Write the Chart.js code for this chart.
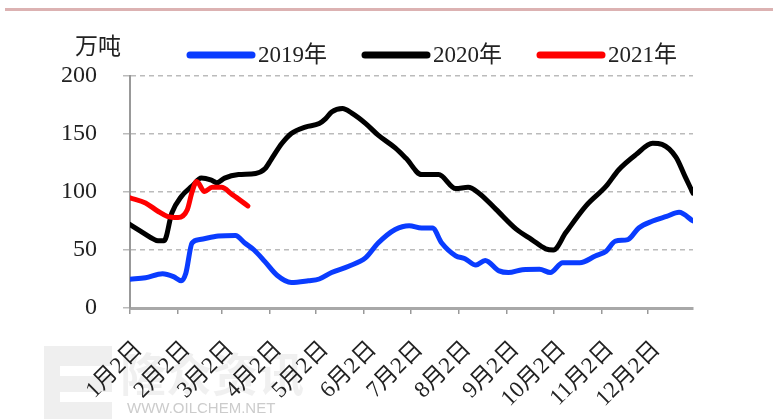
<!DOCTYPE html>
<html>
<head>
<meta charset="utf-8">
<script src="https://cdn.jsdelivr.net/npm/chart.js@4.4.1/dist/chart.umd.min.js"></script>
<style>
  html, body { margin: 0; padding: 0; background: #fff; }
  #wrap { position: relative; width: 773px; height: 419px; overflow: hidden; }
  #topline { position: absolute; left: 5px; right: 0; top: 8px; height: 3px; background: #dcb2b2; }
  canvas { position: absolute; left: 0; top: 0; }
</style>
</head>
<body>
<div id="wrap">
  <div id="topline"></div>
  <canvas id="c" width="773" height="419"></canvas>
</div>
<script>
// ---- data (x = days since Jan 2) ----
const unitLabel = '万吨';
const seriesNames = ['2019年', '2020年', '2021年'];
const seriesColors = ['#0a3cff', '#000000', '#ff0000'];

const tickDays = [0, 31, 59, 90, 120, 151, 181, 212, 243, 273, 304, 334];
const tickLabels = ['1月2日', '2月2日', '3月2日', '4月2日', '5月2日', '6月2日',
                    '7月2日', '8月2日', '9月2日', '10月2日', '11月2日', '12月2日'];

const days2019 = [0, 10, 21, 28, 33, 36, 40, 45, 57, 68, 74, 80, 87, 95, 104, 115, 122, 130, 141, 152,
                  160, 171, 180, 188, 195, 201, 210, 216, 223, 229, 238, 244, 253, 264, 271, 279, 290,
                  300, 307, 313, 321, 328, 337, 346, 354, 363];
const vals2019 = [24.8, 26, 29.5, 27, 23.4, 30, 56, 59, 62, 62.5, 56, 50, 40, 28, 22, 23.5, 25, 30.6, 36, 43.4,
                  56, 67.7, 71, 69, 69, 56, 45, 42.5, 37, 41, 32, 30.6, 33, 33.4, 30.6, 39, 39,
                  44.8, 49, 57.7, 59, 69, 75, 79, 82.5, 75];

const days2020 = [0, 7, 13, 18, 22, 27, 33, 40, 46, 52, 56, 61, 70, 81, 87, 91, 98, 104, 113, 122, 126, 130,
                  137, 143, 152, 160, 171, 178, 188, 199, 210, 218, 225, 236, 249, 259, 268, 273, 281,
                  294, 307, 315, 326, 337, 343, 352, 358, 363];
const vals2020 = [72, 66, 61, 58, 58, 82, 96, 105, 112, 110.5, 108, 112, 115, 116, 120, 128, 142, 150.5, 156, 159, 163, 169,
                  172, 168, 159, 149, 138, 129, 115, 115, 103, 104, 99, 85, 68, 59, 51, 50, 65,
                  88, 105, 119, 132, 142, 141, 130, 113, 99];

const days2021 = [0, 10, 18, 24, 31, 37, 40, 43, 48, 53, 59, 66, 76];
const vals2021 = [95, 90.6, 83.4, 79, 78, 85, 100, 109, 100.5, 104, 104, 97.7, 88];

const yTicks = [0, 50, 100, 150, 200];

// ---- build ----
const toPts = (d, v) => d.map((x, i) => ({ x: x, y: v[i] }));
const allDays = [days2019, days2020, days2021];
const allVals = [vals2019, vals2020, vals2021];

const serifFont = "'Liberation Serif', 'Noto Sans CJK SC', serif";

const datasets = seriesNames.map((name, i) => ({
  label: name,
  data: toPts(allDays[i], allVals[i]),
  borderColor: seriesColors[i],
  backgroundColor: seriesColors[i],
  borderWidth: 5,
  pointRadius: 0,
  cubicInterpolationMode: 'monotone',
  borderCapStyle: 'round',
  borderJoinStyle: 'round',
  order: 3 - i
}));

const decor = {
  id: 'decor',
  beforeDraw(chart) {
    const ctx = chart.ctx;
    ctx.save();
    // watermark logo
    ctx.fillStyle = '#efefef';
    ctx.fillRect(44, 346, 68, 73);
    ctx.fillStyle = '#ffffff';
    ctx.fillRect(60, 366, 52, 10);
    ctx.fillRect(60, 392, 52, 10);
    ctx.font = "bold 46px 'Noto Sans CJK SC'";
    ctx.fillStyle = 'rgba(0,0,0,0.06)';
    ctx.textBaseline = 'middle';
    ctx.fillText('隆众资讯', 120, 374);
    ctx.font = "15px 'Liberation Sans', sans-serif";
    ctx.fillStyle = '#cccccc';
    ctx.fillText('WWW.OILCHEM.NET', 127, 409);
    ctx.restore();
  },
  afterDraw(chart) {
    const ctx = chart.ctx;
    ctx.save();
    ctx.fillStyle = '#222';
    ctx.font = "23px 'Noto Sans CJK SC', serif";
    ctx.textBaseline = 'middle';
    ctx.textAlign = 'left';
    ctx.fillText(unitLabel, 75, 45);
    // legend
    const lx = [187, 362, 537];
    seriesNames.forEach((n, i) => {
      ctx.strokeStyle = seriesColors[i];
      ctx.lineWidth = 7;
      ctx.lineCap = 'round';
      ctx.beginPath();
      ctx.moveTo(lx[i] + 3, 55);
      ctx.lineTo(lx[i] + 65, 55);
      ctx.stroke();
      ctx.fillStyle = '#222';
      ctx.font = "23px " + serifFont;
      ctx.fillText(n, lx[i] + 71, 56);
    });
    ctx.restore();
  }
};

new Chart(document.getElementById('c'), {
  type: 'line',
  data: { datasets: datasets },
  options: {
    responsive: false,
    animation: false,
    layout: { padding: { top: 76, right: 80, left: 0, bottom: 0 } },
    plugins: { legend: { display: false }, tooltip: { enabled: false } },
    scales: {
      x: {
        type: 'linear',
        min: 0,
        max: 363,
        afterBuildTicks: (axis) => { axis.ticks = tickDays.map(v => ({ value: v })); },
        afterFit: (axis) => { axis.height = 111; },
        ticks: {
          autoSkip: false,
          minRotation: 45,
          maxRotation: 45,
          padding: 22,
          labelOffset: 9,
          color: '#222',
          font: { family: serifFont, size: 23 },
          callback: (v) => { const k = tickDays.indexOf(v); return k >= 0 ? tickLabels[k] : ''; }
        },
        grid: { drawOnChartArea: false, drawTicks: true, tickLength: 6, color: '#999', lineWidth: 1.5 },
        border: { display: true, color: '#a8a8a8', width: 3 }
      },
      y: {
        min: 0,
        max: 200,
        afterBuildTicks: (axis) => { axis.ticks = yTicks.map(v => ({ value: v })); },
        afterFit: (axis) => { axis.width = 130; },
        ticks: {
          padding: 26,
          color: '#222',
          font: { family: serifFont, size: 24 }
        },
        grid: { color: '#bbbbbb', lineWidth: 1.5, tickLength: 7, drawTicks: true },
        border: { display: true, color: '#999', width: 2, dash: [5, 4] }
      }
    }
  },
  plugins: [decor]
});
</script>
</body>
</html>
